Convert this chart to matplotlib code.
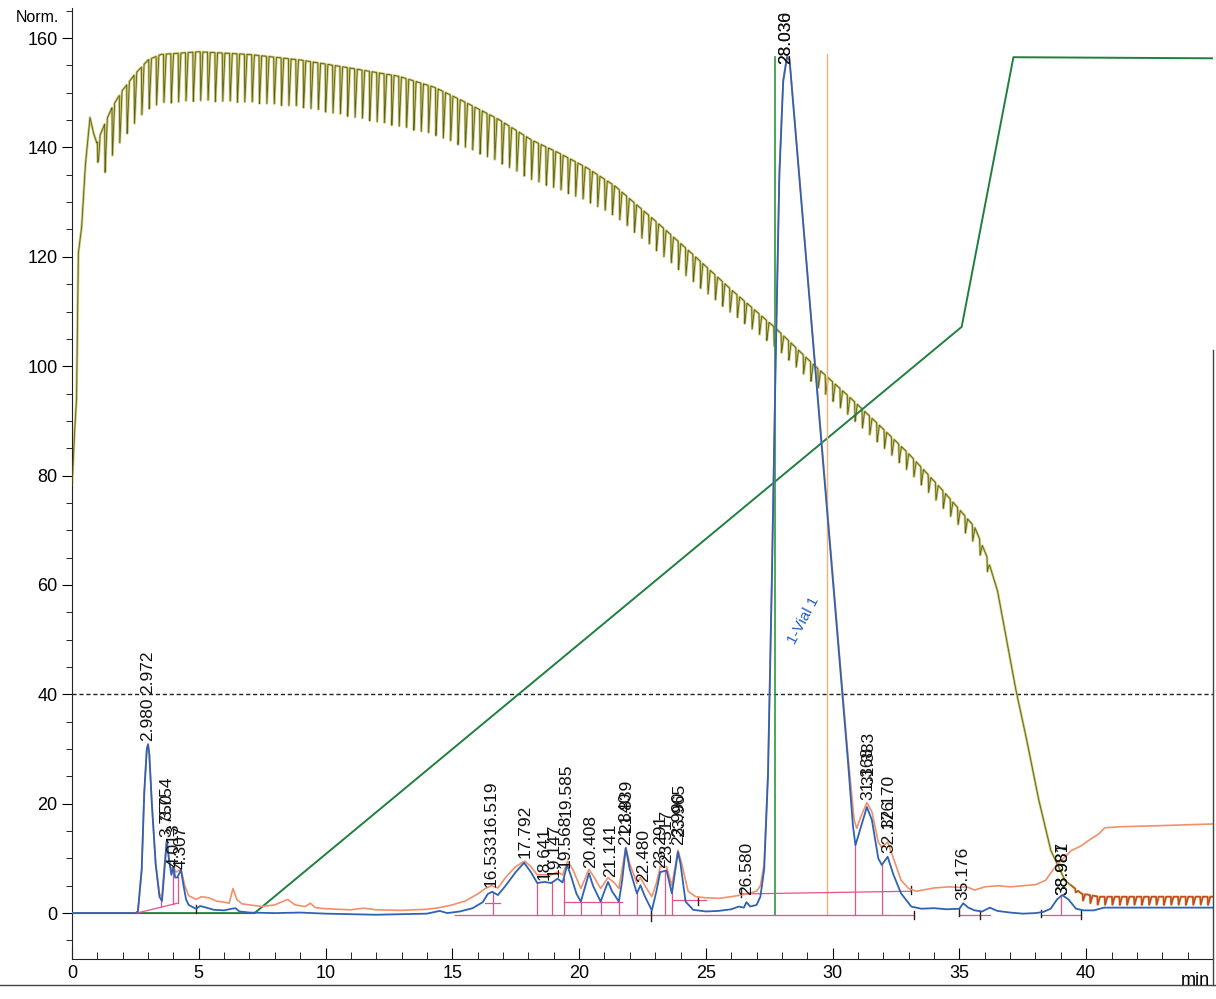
import numpy as np
import matplotlib
matplotlib.use("Agg")
import matplotlib.pyplot as plt
from matplotlib.lines import Line2D

plt.rcParams['font.family'] = ['Liberation Sans', 'DejaVu Sans']

# ---------------- data ----------------
# Pressure trace (upper envelope) and pump ripple depth
press_t = [0.0, 0.1, 0.18, 0.25, 0.38, 0.52, 0.71, 0.85, 0.98, 1.3, 1.6, 2.0, 2.5, 3.0, 3.5,
           5.0, 7.0, 9.0, 11.0, 12.9, 14.3, 15.5, 16.8, 18.15, 19.2, 20.3, 21.4, 23.0, 24.45,
           26.0, 27.74, 29.2, 30.75, 32.0, 33.0, 34.3, 35.6, 36.1, 36.5, 37.2, 37.6, 38.1,
           38.6, 39.16, 39.8, 40.5, 45.0]
press_top = [78, 88, 94, 120.6, 125.4, 136.4, 145.5, 142.6, 140.8, 144.4, 147.5, 150.5, 153.5, 156, 157,
             157.5, 157, 156, 154.5, 153, 151, 148.3, 145.2, 141.3, 139, 136.3, 133, 126.6, 120.6,
             114, 107, 100.5, 94, 88.5, 84, 77.5, 70.6, 65, 59, 41.4, 32.9, 21.3,
             11.5, 6, 3.6, 3.0, 3.0]
ripple_t = [0, 0.95, 1.1, 5, 9, 12.9, 15.5, 18.15, 21.4, 24.5, 27.7, 30.7, 35.6, 36.1, 36.3, 39.3, 40, 45]
ripple_d = [0, 0, 9, 9, 8.6, 9.2, 8.3, 7.3, 5.5, 5, 3.5, 3.5, 3, 2.5, 0, 0, 1.5, 1.5]
stroke_period = 0.29

# Signal 1 (blue)
blue_t = [0, 2.5, 2.6, 2.75, 2.85, 2.95, 3.0, 3.05, 3.15, 3.3, 3.45, 3.55, 3.65, 3.74, 3.82, 3.92,
          4.0, 4.07, 4.15, 4.3, 4.4, 4.5, 4.6, 4.8, 4.9, 5.05, 5.3, 5.6, 6.0, 6.3, 6.45, 6.6, 7.0,
          8, 9, 10, 11, 12, 13, 14, 14.5, 14.8, 15.3, 15.8, 16.2, 16.4, 16.57, 16.8, 17.1, 17.5,
          17.83, 18.1, 18.35, 18.64, 18.9, 19.15, 19.35, 19.53, 19.7, 19.9, 20.07, 20.25, 20.39,
          20.55, 20.85, 21.0, 21.14, 21.3, 21.57, 21.7, 21.84, 22.0, 22.28, 22.42, 22.6, 22.87,
          23.05, 23.2, 23.45, 23.66, 23.8, 23.9, 24.0, 24.2, 24.5, 25, 25.5, 26.0, 26.3, 26.5,
          26.6, 26.75, 27.0, 27.15, 27.3, 27.45, 27.6, 27.75, 27.9, 28.05, 28.2, 28.3, 30.6,
          30.8, 30.9, 31.1, 31.35, 31.55, 31.8, 31.94, 32.17, 32.4, 32.7, 33.1, 33.5, 34.0,
          34.5, 35.0, 35.15, 35.35, 35.6, 35.9, 36.2, 36.5, 37.0, 37.5, 38.0, 38.3, 38.6, 38.85,
          39.05, 39.3, 39.6, 39.9, 40.3, 40.7, 41.2, 45]
blue_v = [0, 0, 0.3, 8, 22, 30, 30.8, 29, 20, 9, 3, 2.2, 8, 13.3, 10, 7,
          8.4, 6.5, 6.5, 7.9, 5, 2.5, 1.5, 1, 0.8, 1.3, 1.0, 0.6, 0.5, 0.8, 0.9, 0.3, 0.1,
          0, 0.1, -0.1, -0.2, -0.3, -0.2, -0.1, 0.4, 0, 0.3, 0.9, 2, 3.5, 3.9, 3.3, 5, 7.5,
          9.2, 7.5, 5.5, 5.7, 5.5, 6.3, 5.6, 8.8, 6.5, 3.5, 2.1, 5, 7.3,
          5, 2.1, 4, 5.7, 4, 2.1, 6, 11.9, 8, 3.6, 5.1, 3, 0.5,
          4, 7.5, 7.8, 3.6, 8, 11.2, 9, 2.1, 0.6, 0.3, 0.4, 0.7, 1.2, 1.0,
          2, 1.2, 1.5, 3, 8, 25, 60, 100, 135, 152, 156.5, 156, 28,
          16, 12.4, 15.5, 19.4, 17, 10, 8.8, 10.3, 7, 3.6, 1.2, 0.8, 0.9,
          0.7, 0.8, 1.8, 1.0, 0.5, 0.3, 1.0, 0.4, 0.1, -0.1, 0, 0.2, 0.8, 2.5,
          3.3, 2.5, 0.8, 0.5, 0.5, 1.0, 1.0, 1.0]

# Signal 2 (orange)
orange_t = [0, 2.5, 2.6, 2.75, 2.85, 2.95, 3.0, 3.05, 3.15, 3.3, 3.45, 3.55, 3.65, 3.74, 3.82, 3.9,
            4.0, 4.1, 4.3, 4.45, 4.6, 4.9, 5.1, 5.4, 5.7, 6.0, 6.2, 6.35, 6.5, 6.7, 7.0, 7.5,
            8.0, 8.5, 8.8, 9.2, 9.4, 9.6, 10, 11, 11.5, 12, 13, 14, 14.5, 15, 15.5, 16.0, 16.3,
            16.55, 16.8, 17.1, 17.5, 17.85, 18.1, 18.35, 18.64, 18.9, 19.15, 19.35, 19.55, 19.75,
            20.07, 20.39, 20.6, 20.85, 21.14, 21.4, 21.57, 21.84, 22.0, 22.28, 22.42, 22.6, 22.87,
            23.05, 23.2, 23.45, 23.66, 23.9, 24.05, 24.3, 24.6, 25, 25.5, 26, 26.5, 27.0, 27.15,
            27.3, 27.45, 27.6, 27.75, 27.9, 28.05, 28.2, 28.3, 30.6, 30.85, 30.95, 31.1, 31.35,
            31.55, 31.8, 31.94, 32.17, 32.4, 32.7, 33.0, 33.3, 34.0, 34.6, 35.0, 35.3, 35.6, 36.0,
            36.5, 37.0, 37.5, 38.0, 38.4, 38.77, 39.1, 39.4, 39.8, 40.07, 40.5, 40.73, 41.4, 43, 45]
orange_v = [0, 0, 0.3, 8, 22, 30, 31, 29, 20, 9, 3.5, 3, 9, 13.5, 10, 8,
            8.5, 7.5, 8, 5, 3.2, 2.5, 3.0, 2.8, 2.2, 2.0, 1.8, 4.5, 2.5, 1.7, 1.5, 1.2,
            1.5, 2.5, 1.5, 1.2, 1.8, 1.0, 0.8, 0.6, 0.9, 0.6, 0.5, 0.7, 1.0, 1.5, 2.2, 3.5, 4.5,
            5, 4.6, 6.5, 8.5, 9.5, 8.5, 7, 7, 7, 7.5, 7, 9.5, 8,
            4.5, 8, 6.5, 4.5, 6.5, 5.5, 4.5, 12, 9, 5.5, 6.5, 5, 3,
            5.5, 8.5, 8.5, 5, 11.5, 9, 4, 3, 2.8, 2.7, 3.0, 3.4, 4.0, 5,
            9, 26, 61, 101, 136, 152.5, 156.8, 156.3, 29, 17, 15.5, 17.5, 20.2,
            18.5, 13, 12, 13, 10, 6, 4.5, 4.0, 4.6, 4.8, 4.7, 4.8, 4.2, 4.8,
            5.0, 4.8, 5.0, 5.2, 6, 8.4, 10, 11.4, 12.3, 13.2, 14.5, 15.6, 15.8, 16.0, 16.3]

# Gradient (%B) trace
grad_t = [0, 7.2, 35.09, 37.13, 45]
grad_v = [0, 0, 107.2, 156.5, 156.3]

# Integration baselines (t0, v0, t1, v1)
base_t0 = [2.55, 15.1, 16.3, 19.4, 23.7, 26.4, 35.0, 38.2]
base_v0 = [0.0, -0.4, 1.9, 2.0, 2.4, 3.5, -0.4, -0.4]
base_t1 = [4.15, 33.2, 16.9, 21.7, 25.0, 33.1, 36.2, 39.8]
base_v1 = [1.8, -0.4, 1.9, 2.0, 2.4, 4.0, -0.4, -0.4]

# Peak drop lines
drop_t = [3.53, 3.98, 4.17, 16.6, 18.35, 18.95, 19.4, 20.07, 20.85, 21.57, 22.28, 22.85,
          23.4, 23.66, 30.9, 31.93, 39.0]
drop_bottom = [1.2, 1.6, 1.8, -0.4, -0.4, -0.4, -0.4, -0.4, -0.4, -0.4, -0.4, -0.4,
               -0.4, -0.4, -0.4, -0.4, -0.4]

# small tick marks on peak start/end
tick_t = [4.91, 22.85, 24.7, 26.4, 33.1, 33.2, 35.0, 35.8, 38.2, 39.8]
tick_lo = [0.0, -1.5, 1.5, 3.0, 3.5, -1.0, -0.6, -1.0, -0.7, -1.0]
tick_hi = [1.4, 0.4, 3.0, 4.6, 5.0, 0.4, 1.0, 0.4, 0.5, 0.5]

# event markers
event_t = [27.74, 29.76]
event_top = [156.5, 157.0]

# Peak labels
label_text = ["2.980", "2.972", "3.750", "3.754", "4.013", "4.307",
              "16.533", "16.519", "17.792", "18.641", "19.147", "19.568", "19.585",
              "20.408", "21.141", "21.840", "21.839", "22.480", "23.291", "23.517",
              "23.990", "23.965", "26.580", "28.030", "28.036", "31.368", "31.383",
              "32.176", "32.170", "35.176", "38.981", "38.987"]
label_t = [2.98, 2.98, 3.75, 3.76, 4.01, 4.31,
           16.53, 16.55, 17.88, 18.64, 19.03, 19.45, 19.47,
           20.45, 21.25, 21.84, 21.86, 22.56, 23.22, 23.45,
           23.92, 23.95, 26.6, 28.13, 28.13, 31.4, 31.42,
           32.2, 32.22, 35.15, 39.07, 39.07]
label_y = [31.5, 40.0, 14.0, 17.0, 8.5, 8.0,
           4.8, 14.5, 10.0, 6.0, 6.6, 8.2, 17.5,
           8.2, 6.6, 12.4, 14.6, 5.7, 8.2, 9.1,
           12.4, 14.0, 3.3, 155.3, 155.3, 20.7, 23.5,
           11.0, 15.5, 2.4, 3.3, 3.3]

# ---------------- figure ----------------
fig = plt.figure(figsize=(12.16, 9.99), dpi=100)
ax = fig.add_axes([0.0592, 0.040, 0.9383, 0.952])
ax.set_xlim(0, 45)
ax.set_ylim(-8.4, 165.5)

# pressure trace with pump ripple (sharp drop, slower recovery)
tf = np.arange(0, 45.0, 0.003)
top = np.interp(tf, press_t, press_top)
depth = np.interp(tf, ripple_t, ripple_d)
phase = (tf / stroke_period) % 1.0
fall = np.clip((phase - 0.44) / 0.06, 0, 1)
rise = np.clip(1 - (phase - 0.5) / 0.3, 0, 1)
dip = np.where(phase < 0.5, fall, rise)
pv = top - depth * dip
ax.plot(tf, pv, color='#c2bf58', lw=1.8, alpha=0.85, zorder=2)
ax.plot(tf, pv, color='#5e5e1c', lw=0.6, zorder=3)
tail = tf > 39.4
ax.plot(tf[tail], pv[tail], color='#d0452a', lw=1.0, zorder=3)

# gradient
ax.plot(grad_t, grad_v, color='#1f7f3f', lw=1.4, zorder=4)

# event markers
ax.plot([event_t[0]] * 2, [-0.4, event_top[0]], color='#2a9a3a', lw=1.2, zorder=4)
ax.plot([event_t[1]] * 2, [-0.4, event_top[1]], color='#f2b27a', lw=1.0, zorder=4)

# dotted threshold
ax.axhline(40, color='#222222', lw=1.0, ls=(0, (3, 2)), zorder=1)

# baselines and drop lines
for a, b, c, d in zip(base_t0, base_v0, base_t1, base_v1):
    ax.plot([a, c], [b, d], color='#e8508a', lw=0.9, zorder=5)
for t0, b0 in zip(drop_t, drop_bottom):
    topv = np.interp(t0, blue_t, blue_v)
    ax.plot([t0, t0], [b0, topv], color='#e8508a', lw=0.9, zorder=5)
for t0, lo, hi in zip(tick_t, tick_lo, tick_hi):
    ax.plot([t0, t0], [lo, hi], color='#222222', lw=1.0, zorder=6)

# signals
ax.plot(orange_t, orange_v, color='#f1906a', lw=1.2, zorder=6)
ax.plot(blue_t, blue_v, color='#2f62b4', lw=1.3, zorder=7)

# labels
for s, t0, y0 in zip(label_text, label_t, label_y):
    ax.text(t0, y0, s, rotation=90, ha='center', va='bottom', fontsize=12.5,
            color='#111111', zorder=8)

ax.text(28.85, 53.5, "1-Vial 1", rotation=62, ha='center', va='center',
        fontsize=11, color='#2060c0', zorder=8)

# axes styling
for s in ['top', 'right']:
    ax.spines[s].set_visible(False)
ax.spines['left'].set_color('#222222')
ax.spines['bottom'].set_color('#222222')
ax.set_xticks(np.arange(0, 41, 5))
ax.set_xticks(np.arange(0, 45, 1), minor=True)
ax.set_yticks(np.arange(0, 161, 20))
ax.set_yticks(np.arange(-5, 166, 5), minor=True)
ax.tick_params(axis='x', which='major', direction='in', length=8, labelsize=13, pad=4)
ax.tick_params(axis='x', which='minor', direction='in', length=5)
ax.tick_params(axis='y', which='major', direction='out', length=7, labelsize=13)
ax.tick_params(axis='y', which='minor', direction='out', length=4)

fig.text(0.013, 0.982, "Norm.", fontsize=11.5, ha='left', va='center')
fig.text(0.995, 0.010, "min", fontsize=13, ha='right', va='bottom')

fig.add_artist(Line2D([0.0, 1.0], [0.014, 0.014], color='#444444', lw=1.0))
fig.add_artist(Line2D([0.9975, 0.9975], [0.014, 0.65], color='#444444', lw=1.0))

fig.savefig("out.png", dpi=100)
